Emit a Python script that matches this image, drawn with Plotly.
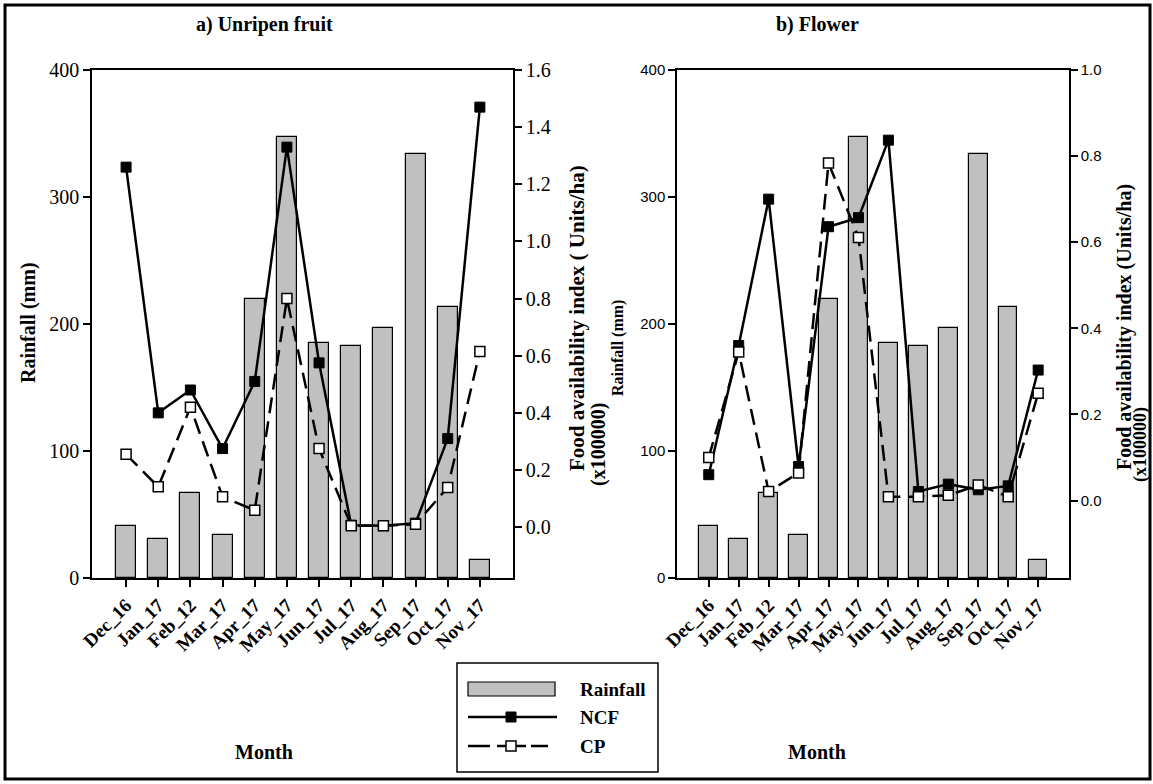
import plotly.graph_objects as go

months = ["Dec_16", "Jan_17", "Feb_12", "Mar_17", "Apr_17", "May_17",
          "Jun_17", "Jul_17", "Aug_17", "Sep_17", "Oct_17", "Nov_17"]
rainfall = [41, 31, 67, 34, 220, 347, 185, 183, 197, 334, 213, 14]
ncf_fruit = [1.26, 0.40, 0.48, 0.275, 0.51, 1.33, 0.575, 0.007, 0.005, 0.014, 0.31, 1.47]
cp_fruit = [0.255, 0.141, 0.42, 0.106, 0.059, 0.80, 0.275, 0.005, 0.005, 0.01, 0.139, 0.615]
ncf_flower = [0.06, 0.36, 0.70, 0.079, 0.636, 0.657, 0.837, 0.021, 0.038, 0.025, 0.034, 0.303]
cp_flower = [0.10, 0.345, 0.021, 0.064, 0.784, 0.611, 0.009, 0.009, 0.012, 0.036, 0.009, 0.249]
rain_ticks = [0, 100, 200, 300, 400]
fruit_ticks = [0.0, 0.2, 0.4, 0.6, 0.8, 1.0, 1.2, 1.4, 1.6]
flower_ticks = [0.0, 0.2, 0.4, 0.6, 0.8, 1.0]

W, H = 1153, 784
SERIF = "Liberation Serif"
SANS = "Liberation Sans"


def px(x):
    return x / W


def py(y):
    return 1 - y / H


fig = go.Figure()

panels = [
    ("x", "y", "y2", ncf_fruit, cp_fruit),
    ("x2", "y3", "y4", ncf_flower, cp_flower),
]
for xa, ya, ya2, ncf, cp in panels:
    fig.add_trace(go.Bar(x=months, y=rainfall, xaxis=xa, yaxis=ya, width=0.62,
                         marker=dict(color="#c0c0c0", line=dict(color="black", width=1.2)),
                         showlegend=False, name="Rainfall"))
    fig.add_trace(go.Scatter(x=months, y=ncf, xaxis=xa, yaxis=ya2, mode="lines+markers",
                             line=dict(color="black", width=2.5),
                             marker=dict(symbol="square", size=10, color="black",
                                         line=dict(color="black", width=1)),
                             showlegend=False, name="NCF"))
    fig.add_trace(go.Scatter(x=months, y=cp, xaxis=xa, yaxis=ya2, mode="lines+markers",
                             line=dict(color="black", width=2.5, dash="16px,8px"),
                             marker=dict(symbol="square", size=10, color="white",
                                         line=dict(color="black", width=1.5)),
                             showlegend=False, name="CP"))

common_x = dict(type="category", categoryorder="array", categoryarray=months,
                range=[-1.06, 12.03], showline=True, linecolor="black", linewidth=1.5,
                mirror=True, ticks="outside", ticklen=7, tickwidth=1.5, tickcolor="black",
                tickangle=-45, showgrid=False, zeroline=False, automargin=False,
                tickfont=dict(family=SERIF, size=19, color="black", weight="bold"))
ydom = [py(578), py(70)]
common_y = dict(showline=True, linecolor="black", linewidth=1.5, ticks="outside",
                ticklen=7, tickwidth=1.5, tickcolor="black", showgrid=False,
                zeroline=False, automargin=False, domain=ydom)

fig.update_layout(
    width=W, height=H, margin=dict(l=0, r=0, t=0, b=0),
    plot_bgcolor="white", paper_bgcolor="white", showlegend=False, bargap=0,
    xaxis=dict(common_x, domain=[px(92), px(513)], anchor="y"),
    xaxis2=dict(common_x, domain=[px(677), px(1069)], anchor="y3"),
    yaxis=dict(common_y, anchor="x", range=[0, 400], tickvals=rain_ticks,
               tickfont=dict(family=SERIF, size=20, color="black")),
    yaxis2=dict(common_y, anchor="x", overlaying="y", side="right",
                range=[-0.178, 1.6], tickvals=fruit_ticks, tickformat=".1f",
                tickfont=dict(family=SERIF, size=20, color="black")),
    yaxis3=dict(common_y, anchor="x2", range=[0, 400], tickvals=rain_ticks,
                tickfont=dict(family=SANS, size=15, color="black")),
    yaxis4=dict(common_y, anchor="x2", overlaying="y3", side="right",
                range=[-0.18, 1.0], tickvals=flower_ticks, tickformat=".1f",
                tickfont=dict(family=SANS, size=15, color="black")),
)

ann = []


def text(x, y, s, size, angle=0, xanchor="center", family=SERIF):
    ann.append(dict(x=px(x), y=py(y), xref="paper", yref="paper", text=s,
                    showarrow=False, textangle=angle, xanchor=xanchor, yanchor="middle",
                    font=dict(family=family, size=size, color="black")))


text(264, 25, "<b>a) Unripen fruit</b>", 20)
text(817, 25, "<b>b) Flower</b>", 20)
text(28, 323, "<b>Rainfall (mm)</b>", 20, -90)
text(577, 318, "<b>Food availability index ( Units/ha)</b>", 21, -90)
text(598, 444, "<b>(x100000)</b>", 20, -90)
text(618, 348, "<b>Rainfall (mm)</b>", 16, -90)
text(1124, 327, "<b>Food availability index (Units/ha)</b>", 20, -90)
text(1141, 445, "<b>(x100000)</b>", 18, -90)
text(264, 752, "<b>Month</b>", 20)
text(817, 752, "<b>Month</b>", 20)
# legend labels
text(578, 689, "<b>Rainfall</b>", 19, xanchor="left")
text(578, 717, "<b>NCF</b>", 19, xanchor="left")
text(578, 746, "<b>CP</b>", 19, xanchor="left")

shapes = []


def rect(x0, y0, x1, y1, lw, fill="rgba(0,0,0,0)", lc="black"):
    shapes.append(dict(type="rect", xref="paper", yref="paper", x0=px(x0), x1=px(x1),
                       y0=py(y0), y1=py(y1), line=dict(color=lc, width=lw), fillcolor=fill))


def seg(x0, y0, x1, y1, lw):
    shapes.append(dict(type="line", xref="paper", yref="paper", x0=px(x0), x1=px(x1),
                       y0=py(y0), y1=py(y1), line=dict(color="black", width=lw)))


# outer frame
rect(5, 5, 1150, 779, 3)
# legend box
rect(457, 663, 658, 772, 1.5)
rect(468, 682, 555, 696, 1.2, fill="#c0c0c0")
seg(468, 717, 557, 717, 2.5)
rect(506, 712, 516, 722, 1, fill="black")
seg(468, 746, 490, 746, 2.5)
seg(497, 746, 506, 746, 2.5)
seg(516, 746, 526, 746, 2.5)
seg(531, 746, 548, 746, 2.5)
rect(506, 741, 516, 751, 1.5, fill="white")

fig.update_layout(annotations=ann, shapes=shapes)
fig.write_html("out.html")
